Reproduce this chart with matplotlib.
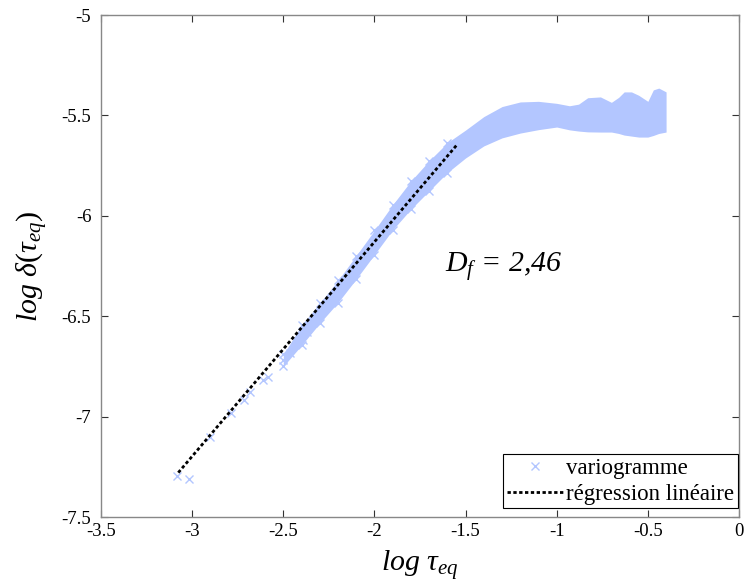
import matplotlib
matplotlib.use('Agg')
import matplotlib.pyplot as plt
from matplotlib.ticker import FuncFormatter

plt.rcParams['font.family'] = ['Liberation Serif', 'DejaVu Serif']
plt.rcParams['mathtext.fontset'] = 'custom'
plt.rcParams['mathtext.rm'] = 'Liberation Serif'
plt.rcParams['mathtext.it'] = 'Liberation Serif:italic'
plt.rcParams['mathtext.bf'] = 'Liberation Serif:bold'
plt.rcParams['axes.unicode_minus'] = False

# sparse variogram points (small lags)
sparse_x = [-3.085, -3.016, -2.902, -2.787, -2.716, -2.683, -2.611, -2.584,
            -2.502, -2.463, -2.392, -2.372]
sparse_y = [-7.294, -7.312, -7.100, -6.984, -6.917, -6.876, -6.818, -6.803,
            -6.718, -6.683, -6.618, -6.577]

# dense variogram band (lower / upper envelopes)
band_x = [-2.50, -2.40, -2.30, -2.20, -2.10, -2.00, -1.90, -1.80, -1.70, -1.60,
          -1.50, -1.40, -1.30, -1.20, -1.10, -1.00, -0.93, -0.88, -0.83, -0.76,
          -0.70, -0.66, -0.63, -0.59, -0.55, -0.50, -0.47, -0.44, -0.40]
band_hi = [-6.690, -6.545, -6.435, -6.322, -6.198, -6.073, -5.945, -5.827, -5.726, -5.636,
           -5.573, -5.506, -5.456, -5.433, -5.430, -5.440, -5.452, -5.444, -5.412, -5.408,
           -5.435, -5.410, -5.383, -5.383, -5.400, -5.430, -5.373, -5.364, -5.383]
band_lo = [-6.750, -6.645, -6.535, -6.432, -6.315, -6.193, -6.070, -5.967, -5.876, -5.785,
           -5.712, -5.652, -5.612, -5.588, -5.571, -5.558, -5.572, -5.578, -5.582, -5.583,
           -5.583, -5.590, -5.598, -5.603, -5.608, -5.608, -5.600, -5.590, -5.583]

# linear regression
reg_x = [-3.076, -1.545]
reg_y = [-7.279, -5.644]

xticks = [-3.5, -3, -2.5, -2, -1.5, -1, -0.5, 0]
yticks = [-7.5, -7, -6.5, -6, -5.5, -5]

blue = '#b3c6ff'

fig = plt.figure(figsize=(7.44, 5.88), dpi=100)
ax = fig.add_axes([101/744, 1 - 517/588, 638/744, 502/588])

ax.fill_between(band_x, band_lo, band_hi, color=blue, lw=0, zorder=1)
n_fuzz = 10
ax.plot(band_x[:n_fuzz], band_hi[:n_fuzz], 'x', color=blue, ms=6, mew=1, zorder=1)
ax.plot(band_x[:n_fuzz], band_lo[:n_fuzz], 'x', color=blue, ms=6, mew=1, zorder=1)
ax.plot(sparse_x, sparse_y, 'x', color=blue, ms=6, mew=1, zorder=2, label='variogramme')
ax.plot(reg_x, reg_y, linestyle=(0, (1.2, 0.9)), color='black', lw=2, zorder=3,
        label='régression linéaire')

ax.set_xlim(-3.5, 0)
ax.set_ylim(-7.5, -5)
ax.set_xticks(xticks)
ax.set_yticks(yticks)
fmt = FuncFormatter(lambda v, p: '%g' % v)
ax.xaxis.set_major_formatter(fmt)
ax.yaxis.set_major_formatter(fmt)
ax.tick_params(direction='in', length=5, width=0.8, colors='#333333',
               labelsize=13.5, labelcolor='black', top=True, right=True)
ax.tick_params(axis='y', pad=7)
ax.tick_params(axis='x', pad=4)
for s in ax.spines.values():
    s.set_color('#888888')
    s.set_linewidth(1.0)

ax.set_xlabel(r'log $\tau_{eq}$', fontsize=21.5, style='italic', labelpad=6)
ax.set_ylabel(r'log $\delta(\tau_{eq})$', fontsize=21.5, style='italic', labelpad=8)

ax.text(-1.613, -6.28, r'$D_f$ = 2,46', fontsize=21.5, style='italic',
        ha='left', va='baseline')

leg = ax.legend(loc='lower right', bbox_to_anchor=(0.998, 0.018), borderaxespad=0,
                fontsize=16.5, frameon=True, fancybox=False, framealpha=1,
                edgecolor='black', handlelength=2.5, handletextpad=0.1,
                borderpad=0.15, labelspacing=0.2)
leg.get_frame().set_linewidth(0.8)

fig.savefig('out.png', dpi=100)
